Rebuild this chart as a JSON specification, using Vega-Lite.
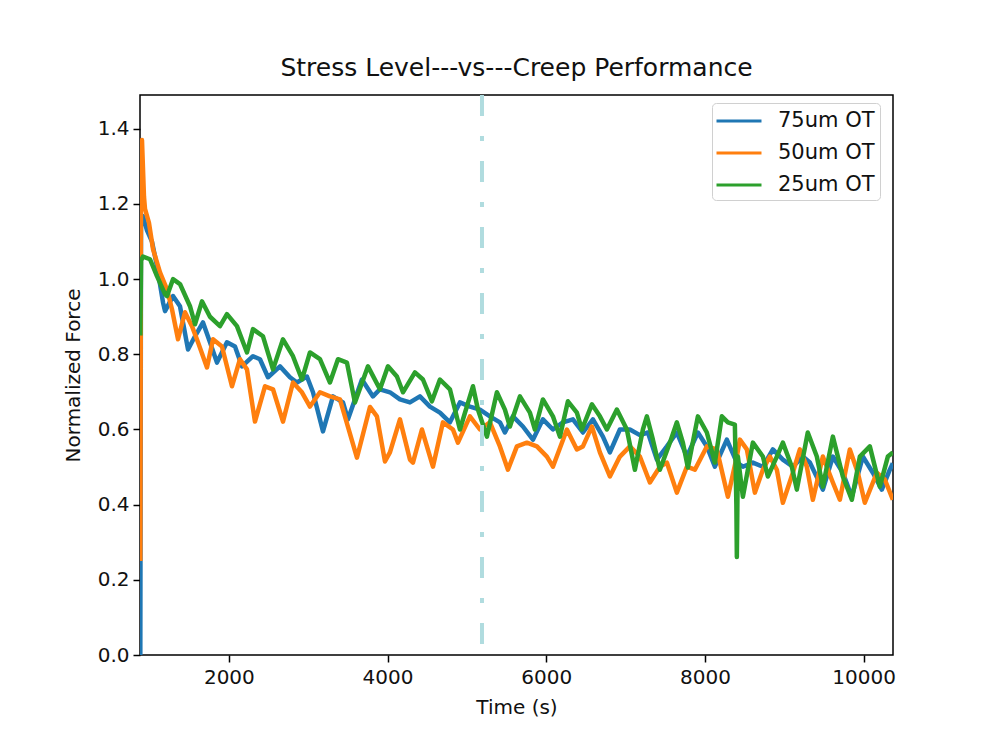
{
  "$schema": "https://vega.github.io/schema/vega-lite/v6.json",
  "autosize": "none",
  "width": 753,
  "height": 560,
  "padding": {"left": 140, "top": 95, "right": 99, "bottom": 74},
  "background": "white",
  "config": {
    "font": "DejaVu Sans",
    "view": {"stroke": "black", "strokeWidth": 1.5},
    "axis": {"grid": false, "domain": false, "tickColor": "black", "tickSize": 7, "tickWidth": 1.5, "labelColor": "#111", "labelFontSize": 20, "labelFont": "DejaVu Sans", "titleFont": "DejaVu Sans", "titleFontSize": 20, "titleFontWeight": "normal", "titleColor": "#111"}
  },
  "title": {"text": "Stress Level---vs---Creep Performance", "fontSize": 25, "fontWeight": "normal", "font": "DejaVu Sans", "color": "#111", "offset": 12},
  "datasets": {
    "curves": [
      {"t": 884, "f": 0.0, "s": "75um OT"},
      {"t": 893, "f": 1.17, "s": "75um OT"},
      {"t": 918, "f": 1.168, "s": "75um OT"},
      {"t": 968, "f": 1.13, "s": "75um OT"},
      {"t": 1031, "f": 1.10, "s": "75um OT"},
      {"t": 1094, "f": 1.035, "s": "75um OT"},
      {"t": 1170, "f": 0.938, "s": "75um OT"},
      {"t": 1195, "f": 0.915, "s": "75um OT"},
      {"t": 1296, "f": 0.955, "s": "75um OT"},
      {"t": 1384, "f": 0.928, "s": "75um OT"},
      {"t": 1485, "f": 0.813, "s": "75um OT"},
      {"t": 1573, "f": 0.848, "s": "75um OT"},
      {"t": 1674, "f": 0.885, "s": "75um OT"},
      {"t": 1762, "f": 0.832, "s": "75um OT"},
      {"t": 1850, "f": 0.778, "s": "75um OT"},
      {"t": 1976, "f": 0.832, "s": "75um OT"},
      {"t": 2077, "f": 0.821, "s": "75um OT"},
      {"t": 2165, "f": 0.768, "s": "75um OT"},
      {"t": 2304, "f": 0.795, "s": "75um OT"},
      {"t": 2392, "f": 0.787, "s": "75um OT"},
      {"t": 2493, "f": 0.739, "s": "75um OT"},
      {"t": 2644, "f": 0.768, "s": "75um OT"},
      {"t": 2770, "f": 0.739, "s": "75um OT"},
      {"t": 2858, "f": 0.725, "s": "75um OT"},
      {"t": 2984, "f": 0.741, "s": "75um OT"},
      {"t": 3060, "f": 0.699, "s": "75um OT"},
      {"t": 3186, "f": 0.595, "s": "75um OT"},
      {"t": 3312, "f": 0.688, "s": "75um OT"},
      {"t": 3438, "f": 0.672, "s": "75um OT"},
      {"t": 3501, "f": 0.627, "s": "75um OT"},
      {"t": 3677, "f": 0.733, "s": "75um OT"},
      {"t": 3816, "f": 0.688, "s": "75um OT"},
      {"t": 3904, "f": 0.707, "s": "75um OT"},
      {"t": 4030, "f": 0.699, "s": "75um OT"},
      {"t": 4156, "f": 0.68, "s": "75um OT"},
      {"t": 4282, "f": 0.672, "s": "75um OT"},
      {"t": 4408, "f": 0.688, "s": "75um OT"},
      {"t": 4534, "f": 0.661, "s": "75um OT"},
      {"t": 4660, "f": 0.645, "s": "75um OT"},
      {"t": 4786, "f": 0.619, "s": "75um OT"},
      {"t": 4912, "f": 0.672, "s": "75um OT"},
      {"t": 5038, "f": 0.661, "s": "75um OT"},
      {"t": 5164, "f": 0.653, "s": "75um OT"},
      {"t": 5290, "f": 0.635, "s": "75um OT"},
      {"t": 5416, "f": 0.619, "s": "75um OT"},
      {"t": 5479, "f": 0.592, "s": "75um OT"},
      {"t": 5580, "f": 0.635, "s": "75um OT"},
      {"t": 5706, "f": 0.608, "s": "75um OT"},
      {"t": 5832, "f": 0.573, "s": "75um OT"},
      {"t": 5958, "f": 0.627, "s": "75um OT"},
      {"t": 6084, "f": 0.60, "s": "75um OT"},
      {"t": 6210, "f": 0.619, "s": "75um OT"},
      {"t": 6336, "f": 0.627, "s": "75um OT"},
      {"t": 6462, "f": 0.592, "s": "75um OT"},
      {"t": 6588, "f": 0.627, "s": "75um OT"},
      {"t": 6714, "f": 0.581, "s": "75um OT"},
      {"t": 6802, "f": 0.539, "s": "75um OT"},
      {"t": 6928, "f": 0.60, "s": "75um OT"},
      {"t": 7054, "f": 0.60, "s": "75um OT"},
      {"t": 7180, "f": 0.585, "s": "75um OT"},
      {"t": 7281, "f": 0.592, "s": "75um OT"},
      {"t": 7394, "f": 0.52, "s": "75um OT"},
      {"t": 7520, "f": 0.555, "s": "75um OT"},
      {"t": 7646, "f": 0.592, "s": "75um OT"},
      {"t": 7772, "f": 0.528, "s": "75um OT"},
      {"t": 7911, "f": 0.592, "s": "75um OT"},
      {"t": 8024, "f": 0.555, "s": "75um OT"},
      {"t": 8125, "f": 0.501, "s": "75um OT"},
      {"t": 8276, "f": 0.573, "s": "75um OT"},
      {"t": 8402, "f": 0.512, "s": "75um OT"},
      {"t": 8478, "f": 0.501, "s": "75um OT"},
      {"t": 8604, "f": 0.512, "s": "75um OT"},
      {"t": 8730, "f": 0.501, "s": "75um OT"},
      {"t": 8856, "f": 0.547, "s": "75um OT"},
      {"t": 8982, "f": 0.52, "s": "75um OT"},
      {"t": 9108, "f": 0.501, "s": "75um OT"},
      {"t": 9234, "f": 0.528, "s": "75um OT"},
      {"t": 9322, "f": 0.512, "s": "75um OT"},
      {"t": 9486, "f": 0.44, "s": "75um OT"},
      {"t": 9612, "f": 0.528, "s": "75um OT"},
      {"t": 9738, "f": 0.485, "s": "75um OT"},
      {"t": 9851, "f": 0.421, "s": "75um OT"},
      {"t": 9990, "f": 0.528, "s": "75um OT"},
      {"t": 10116, "f": 0.485, "s": "75um OT"},
      {"t": 10229, "f": 0.44, "s": "75um OT"},
      {"t": 10330, "f": 0.493, "s": "75um OT"},
      {"t": 10368, "f": 0.51, "s": "75um OT"},

      {"t": 884, "f": 0.25, "s": "50um OT"},
      {"t": 893, "f": 1.30, "s": "50um OT"},
      {"t": 905, "f": 1.37, "s": "50um OT"},
      {"t": 930, "f": 1.22, "s": "50um OT"},
      {"t": 943, "f": 1.187, "s": "50um OT"},
      {"t": 993, "f": 1.15, "s": "50um OT"},
      {"t": 1044, "f": 1.08, "s": "50um OT"},
      {"t": 1132, "f": 1.018, "s": "50um OT"},
      {"t": 1220, "f": 0.973, "s": "50um OT"},
      {"t": 1283, "f": 0.92, "s": "50um OT"},
      {"t": 1359, "f": 0.84, "s": "50um OT"},
      {"t": 1447, "f": 0.912, "s": "50um OT"},
      {"t": 1535, "f": 0.875, "s": "50um OT"},
      {"t": 1611, "f": 0.832, "s": "50um OT"},
      {"t": 1724, "f": 0.765, "s": "50um OT"},
      {"t": 1800, "f": 0.84, "s": "50um OT"},
      {"t": 1913, "f": 0.821, "s": "50um OT"},
      {"t": 2039, "f": 0.715, "s": "50um OT"},
      {"t": 2140, "f": 0.787, "s": "50um OT"},
      {"t": 2228, "f": 0.76, "s": "50um OT"},
      {"t": 2329, "f": 0.621, "s": "50um OT"},
      {"t": 2455, "f": 0.715, "s": "50um OT"},
      {"t": 2556, "f": 0.707, "s": "50um OT"},
      {"t": 2682, "f": 0.621, "s": "50um OT"},
      {"t": 2808, "f": 0.725, "s": "50um OT"},
      {"t": 2921, "f": 0.699, "s": "50um OT"},
      {"t": 3022, "f": 0.661, "s": "50um OT"},
      {"t": 3148, "f": 0.699, "s": "50um OT"},
      {"t": 3274, "f": 0.688, "s": "50um OT"},
      {"t": 3400, "f": 0.68, "s": "50um OT"},
      {"t": 3614, "f": 0.525, "s": "50um OT"},
      {"t": 3778, "f": 0.66, "s": "50um OT"},
      {"t": 3866, "f": 0.635, "s": "50um OT"},
      {"t": 3967, "f": 0.515, "s": "50um OT"},
      {"t": 4030, "f": 0.539, "s": "50um OT"},
      {"t": 4156, "f": 0.627, "s": "50um OT"},
      {"t": 4282, "f": 0.52, "s": "50um OT"},
      {"t": 4320, "f": 0.512, "s": "50um OT"},
      {"t": 4433, "f": 0.60, "s": "50um OT"},
      {"t": 4572, "f": 0.501, "s": "50um OT"},
      {"t": 4698, "f": 0.619, "s": "50um OT"},
      {"t": 4824, "f": 0.60, "s": "50um OT"},
      {"t": 4887, "f": 0.565, "s": "50um OT"},
      {"t": 5038, "f": 0.635, "s": "50um OT"},
      {"t": 5164, "f": 0.60, "s": "50um OT"},
      {"t": 5290, "f": 0.619, "s": "50um OT"},
      {"t": 5416, "f": 0.555, "s": "50um OT"},
      {"t": 5517, "f": 0.493, "s": "50um OT"},
      {"t": 5630, "f": 0.555, "s": "50um OT"},
      {"t": 5756, "f": 0.565, "s": "50um OT"},
      {"t": 5882, "f": 0.555, "s": "50um OT"},
      {"t": 6008, "f": 0.528, "s": "50um OT"},
      {"t": 6084, "f": 0.501, "s": "50um OT"},
      {"t": 6260, "f": 0.60, "s": "50um OT"},
      {"t": 6386, "f": 0.547, "s": "50um OT"},
      {"t": 6462, "f": 0.555, "s": "50um OT"},
      {"t": 6575, "f": 0.608, "s": "50um OT"},
      {"t": 6676, "f": 0.539, "s": "50um OT"},
      {"t": 6802, "f": 0.475, "s": "50um OT"},
      {"t": 6928, "f": 0.528, "s": "50um OT"},
      {"t": 7054, "f": 0.555, "s": "50um OT"},
      {"t": 7180, "f": 0.528, "s": "50um OT"},
      {"t": 7306, "f": 0.459, "s": "50um OT"},
      {"t": 7432, "f": 0.501, "s": "50um OT"},
      {"t": 7520, "f": 0.512, "s": "50um OT"},
      {"t": 7646, "f": 0.432, "s": "50um OT"},
      {"t": 7772, "f": 0.501, "s": "50um OT"},
      {"t": 7873, "f": 0.493, "s": "50um OT"},
      {"t": 8024, "f": 0.555, "s": "50um OT"},
      {"t": 8150, "f": 0.547, "s": "50um OT"},
      {"t": 8289, "f": 0.421, "s": "50um OT"},
      {"t": 8402, "f": 0.528, "s": "50um OT"},
      {"t": 8440, "f": 0.573, "s": "50um OT"},
      {"t": 8528, "f": 0.547, "s": "50um OT"},
      {"t": 8629, "f": 0.432, "s": "50um OT"},
      {"t": 8730, "f": 0.493, "s": "50um OT"},
      {"t": 8818, "f": 0.528, "s": "50um OT"},
      {"t": 8906, "f": 0.493, "s": "50um OT"},
      {"t": 8982, "f": 0.405, "s": "50um OT"},
      {"t": 9108, "f": 0.485, "s": "50um OT"},
      {"t": 9196, "f": 0.547, "s": "50um OT"},
      {"t": 9284, "f": 0.501, "s": "50um OT"},
      {"t": 9360, "f": 0.413, "s": "50um OT"},
      {"t": 9486, "f": 0.528, "s": "50um OT"},
      {"t": 9612, "f": 0.459, "s": "50um OT"},
      {"t": 9700, "f": 0.413, "s": "50um OT"},
      {"t": 9826, "f": 0.547, "s": "50um OT"},
      {"t": 9927, "f": 0.485, "s": "50um OT"},
      {"t": 10015, "f": 0.405, "s": "50um OT"},
      {"t": 10166, "f": 0.485, "s": "50um OT"},
      {"t": 10267, "f": 0.467, "s": "50um OT"},
      {"t": 10368, "f": 0.413, "s": "50um OT"},

      {"t": 884, "f": 0.85, "s": "25um OT"},
      {"t": 893, "f": 1.05, "s": "25um OT"},
      {"t": 918, "f": 1.06, "s": "25um OT"},
      {"t": 1006, "f": 1.053, "s": "25um OT"},
      {"t": 1094, "f": 1.008, "s": "25um OT"},
      {"t": 1195, "f": 0.96, "s": "25um OT"},
      {"t": 1220, "f": 0.955, "s": "25um OT"},
      {"t": 1296, "f": 1.0, "s": "25um OT"},
      {"t": 1384, "f": 0.987, "s": "25um OT"},
      {"t": 1510, "f": 0.928, "s": "25um OT"},
      {"t": 1573, "f": 0.88, "s": "25um OT"},
      {"t": 1661, "f": 0.941, "s": "25um OT"},
      {"t": 1762, "f": 0.90, "s": "25um OT"},
      {"t": 1888, "f": 0.875, "s": "25um OT"},
      {"t": 1976, "f": 0.907, "s": "25um OT"},
      {"t": 2102, "f": 0.875, "s": "25um OT"},
      {"t": 2228, "f": 0.805, "s": "25um OT"},
      {"t": 2304, "f": 0.867, "s": "25um OT"},
      {"t": 2430, "f": 0.848, "s": "25um OT"},
      {"t": 2556, "f": 0.76, "s": "25um OT"},
      {"t": 2682, "f": 0.84, "s": "25um OT"},
      {"t": 2808, "f": 0.795, "s": "25um OT"},
      {"t": 2921, "f": 0.733, "s": "25um OT"},
      {"t": 3022, "f": 0.805, "s": "25um OT"},
      {"t": 3148, "f": 0.787, "s": "25um OT"},
      {"t": 3274, "f": 0.725, "s": "25um OT"},
      {"t": 3375, "f": 0.787, "s": "25um OT"},
      {"t": 3488, "f": 0.778, "s": "25um OT"},
      {"t": 3589, "f": 0.672, "s": "25um OT"},
      {"t": 3753, "f": 0.768, "s": "25um OT"},
      {"t": 3904, "f": 0.707, "s": "25um OT"},
      {"t": 4005, "f": 0.768, "s": "25um OT"},
      {"t": 4118, "f": 0.741, "s": "25um OT"},
      {"t": 4194, "f": 0.699, "s": "25um OT"},
      {"t": 4345, "f": 0.752, "s": "25um OT"},
      {"t": 4446, "f": 0.733, "s": "25um OT"},
      {"t": 4559, "f": 0.675, "s": "25um OT"},
      {"t": 4660, "f": 0.733, "s": "25um OT"},
      {"t": 4786, "f": 0.707, "s": "25um OT"},
      {"t": 4912, "f": 0.60, "s": "25um OT"},
      {"t": 5076, "f": 0.715, "s": "25um OT"},
      {"t": 5139, "f": 0.653, "s": "25um OT"},
      {"t": 5252, "f": 0.581, "s": "25um OT"},
      {"t": 5378, "f": 0.699, "s": "25um OT"},
      {"t": 5479, "f": 0.653, "s": "25um OT"},
      {"t": 5542, "f": 0.608, "s": "25um OT"},
      {"t": 5668, "f": 0.688, "s": "25um OT"},
      {"t": 5794, "f": 0.645, "s": "25um OT"},
      {"t": 5857, "f": 0.60, "s": "25um OT"},
      {"t": 5958, "f": 0.68, "s": "25um OT"},
      {"t": 6084, "f": 0.635, "s": "25um OT"},
      {"t": 6172, "f": 0.581, "s": "25um OT"},
      {"t": 6273, "f": 0.675, "s": "25um OT"},
      {"t": 6386, "f": 0.645, "s": "25um OT"},
      {"t": 6449, "f": 0.60, "s": "25um OT"},
      {"t": 6575, "f": 0.667, "s": "25um OT"},
      {"t": 6676, "f": 0.635, "s": "25um OT"},
      {"t": 6764, "f": 0.60, "s": "25um OT"},
      {"t": 6890, "f": 0.653, "s": "25um OT"},
      {"t": 7016, "f": 0.60, "s": "25um OT"},
      {"t": 7117, "f": 0.493, "s": "25um OT"},
      {"t": 7218, "f": 0.60, "s": "25um OT"},
      {"t": 7268, "f": 0.635, "s": "25um OT"},
      {"t": 7344, "f": 0.573, "s": "25um OT"},
      {"t": 7432, "f": 0.493, "s": "25um OT"},
      {"t": 7558, "f": 0.565, "s": "25um OT"},
      {"t": 7646, "f": 0.619, "s": "25um OT"},
      {"t": 7722, "f": 0.565, "s": "25um OT"},
      {"t": 7785, "f": 0.499, "s": "25um OT"},
      {"t": 7911, "f": 0.635, "s": "25um OT"},
      {"t": 8024, "f": 0.592, "s": "25um OT"},
      {"t": 8125, "f": 0.512, "s": "25um OT"},
      {"t": 8213, "f": 0.635, "s": "25um OT"},
      {"t": 8289, "f": 0.619, "s": "25um OT"},
      {"t": 8377, "f": 0.613, "s": "25um OT"},
      {"t": 8396, "f": 0.4, "s": "25um OT"},
      {"t": 8402, "f": 0.261, "s": "25um OT"},
      {"t": 8415, "f": 0.528, "s": "25um OT"},
      {"t": 8478, "f": 0.421, "s": "25um OT"},
      {"t": 8604, "f": 0.565, "s": "25um OT"},
      {"t": 8730, "f": 0.528, "s": "25um OT"},
      {"t": 8793, "f": 0.475, "s": "25um OT"},
      {"t": 8906, "f": 0.528, "s": "25um OT"},
      {"t": 8982, "f": 0.565, "s": "25um OT"},
      {"t": 9095, "f": 0.501, "s": "25um OT"},
      {"t": 9158, "f": 0.44, "s": "25um OT"},
      {"t": 9296, "f": 0.592, "s": "25um OT"},
      {"t": 9410, "f": 0.528, "s": "25um OT"},
      {"t": 9486, "f": 0.448, "s": "25um OT"},
      {"t": 9612, "f": 0.581, "s": "25um OT"},
      {"t": 9738, "f": 0.475, "s": "25um OT"},
      {"t": 9851, "f": 0.413, "s": "25um OT"},
      {"t": 9952, "f": 0.528, "s": "25um OT"},
      {"t": 10078, "f": 0.555, "s": "25um OT"},
      {"t": 10204, "f": 0.448, "s": "25um OT"},
      {"t": 10305, "f": 0.528, "s": "25um OT"},
      {"t": 10368, "f": 0.539, "s": "25um OT"}
    ],
    "marker": [{"t": 5190, "top": 1.49, "bottom": 0}]
  },
  "layer": [
    {
      "data": {"name": "curves"},
      "transform": [{"filter": "datum.s === '75um OT'"}],
      "mark": {"type": "line", "strokeWidth": 4.5, "strokeJoin": "round", "clip": true},
      "encoding": {
        "x": {"field": "t", "type": "quantitative", "scale": {"domain": [880, 10370], "nice": false, "zero": false}, "axis": {"values": [2000, 4000, 6000, 8000, 10000], "format": "d", "title": "Time (s)", "labelPadding": 5, "titlePadding": 10}},
        "y": {"field": "f", "type": "quantitative", "scale": {"domain": [0, 1.49], "nice": false}, "axis": {"values": [0, 0.2, 0.4, 0.6, 0.8, 1.0, 1.2, 1.4], "format": ".1f", "title": "Normalized Force", "labelPadding": 4, "titlePadding": 14}},
        "color": {"field": "s", "type": "nominal", "scale": {"domain": ["75um OT", "50um OT", "25um OT"], "range": ["#1f77b4", "#ff7f0e", "#2ca02c"]},
          "legend": {"title": null, "orient": "none", "legendX": 572, "legendY": 8, "symbolType": "M-1.2,0H2.8", "symbolSize": 506, "symbolStrokeWidth": 3, "labelFontSize": 21, "labelFont": "DejaVu Sans", "labelColor": "#111", "labelOffset": 35, "padding": 5, "rowPadding": 9, "strokeColor": "#d0d0d0", "fillColor": "white", "cornerRadius": 4}},
        "order": {"field": "t", "type": "quantitative"}
      }
    },
    {
      "data": {"name": "curves"},
      "transform": [{"filter": "datum.s === '50um OT'"}],
      "mark": {"type": "line", "strokeWidth": 4.5, "strokeJoin": "round", "clip": true},
      "encoding": {
        "x": {"field": "t", "type": "quantitative"},
        "y": {"field": "f", "type": "quantitative"},
        "color": {"field": "s", "type": "nominal"},
        "order": {"field": "t", "type": "quantitative"}
      }
    },
    {
      "data": {"name": "curves"},
      "transform": [{"filter": "datum.s === '25um OT'"}],
      "mark": {"type": "line", "strokeWidth": 4.5, "strokeJoin": "round", "clip": true},
      "encoding": {
        "x": {"field": "t", "type": "quantitative"},
        "y": {"field": "f", "type": "quantitative"},
        "color": {"field": "s", "type": "nominal"},
        "order": {"field": "t", "type": "quantitative"}
      }
    },
    {
      "data": {"name": "marker"},
      "mark": {"type": "rule", "color": "#b0dcdf", "strokeWidth": 4, "strokeDash": [21, 20, 5, 20]},
      "encoding": {
        "x": {"field": "t", "type": "quantitative"},
        "y": {"field": "top", "type": "quantitative"},
        "y2": {"field": "bottom"}
      }
    }
  ]
}
